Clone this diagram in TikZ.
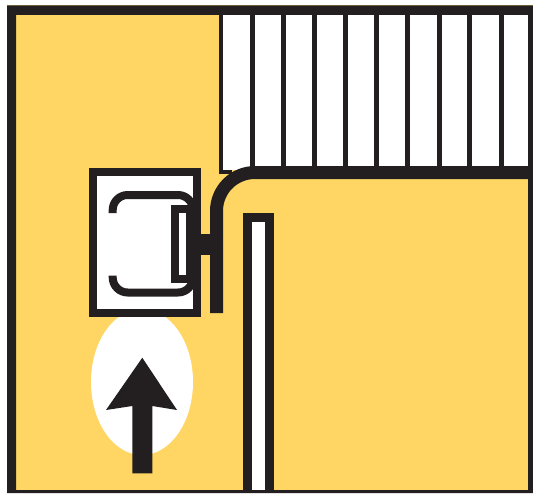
\documentclass[tikz,border=0pt]{standalone}
\usepackage{tikz}
\definecolor{inkblack}{HTML}{231F20}
\definecolor{roadyellow}{HTML}{FFD663}
\tikzset{
    inkline/.style={draw=inkblack, line width=8pt*0.5692},
    inkfill/.style={fill=inkblack},
}

\begin{document}
\begin{tikzpicture}[x=0.02cm, y=-0.02cm]
    \useasboundingbox (0,0) rectangle (533,493);
    % ground
    \fill[roadyellow] (7,5.5) rectangle (533,493);
    \fill[white] (219,15) rectangle (533,170);
    \fill[inkfill] (219,15) rectangle (223,174);
    \fill[inkfill] (219,170) rectangle (232,174);
    \foreach \x in {250,281,312,343,374,405,437,467,499}
        \fill[inkfill] (\x,15) rectangle +(5,152);
    % frame
    \fill[inkfill, even odd rule] (7,5.5) rectangle (533,493) (16,15) rectangle (528,490);
    % kerb line
    \draw[draw=inkblack, line width=13pt*0.5692, rounded corners=0.77cm] (216.5,313) -- (216.5,172.5) -- (528,172.5);
    \fill[inkfill] (200,234) rectangle (212,255);
    % post
    \fill[inkfill] (242.5,213) rectangle (273.5,490);
    \fill[white] (251.5,222) rectangle (264.5,490);
    % ellipse and arrow
    \fill[white] (142,382) ellipse [x radius=51, y radius=73];
    \fill[inkfill] (142.3,357.7) -- (177,410) -- (152.3,406) -- (152.3,473.3) -- (132.3,473.3) -- (132.3,406) -- (106,410) -- cycle;
    % box
    \draw[inkline, fill=white] (93,172.2) rectangle (196.8,313.3);
    \draw[inkline, rounded corners=0.3cm] (112.7,213) -- (112.7,195) -- (193,195) -- (193,292.5) -- (112.7,292.5) -- (112.7,275.7);
    \draw[inkline] (175,209.2) rectangle (190,278.5);
\end{tikzpicture}
\end{document}
